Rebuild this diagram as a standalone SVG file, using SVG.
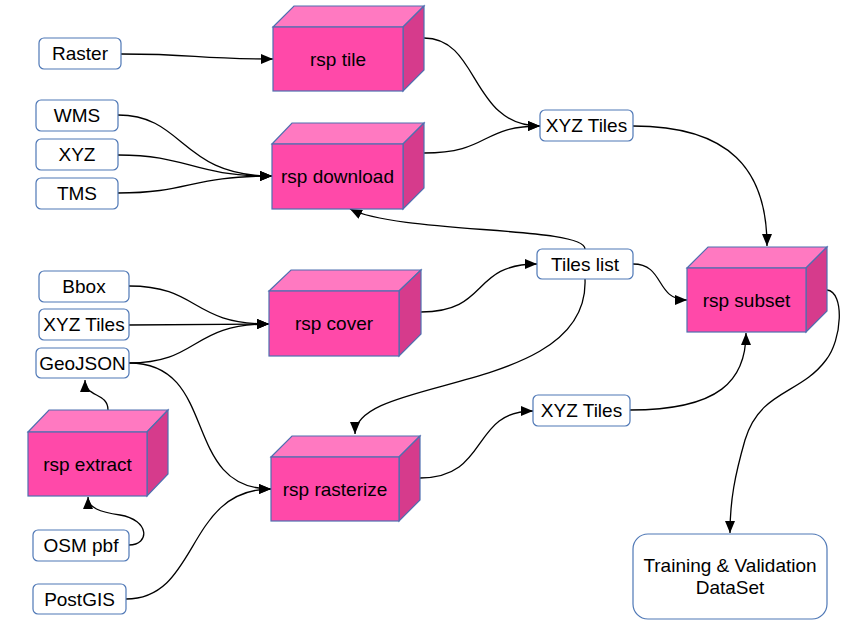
<svg xmlns="http://www.w3.org/2000/svg" width="848" height="635" viewBox="0 0 848 635">
<style>
text{font-family:"Liberation Sans",Arial,sans-serif;font-size:19px;fill:#000;text-anchor:middle}
.n{fill:#fff;stroke:#4f78b6;stroke-width:1.2}
.f{fill:#ff49a9;stroke:#4f6fb0;stroke-width:1.2}
.t{fill:#ff79c1;stroke:#4f6fb0;stroke-width:1.2}
.s{fill:#d63b8c;stroke:#4f6fb0;stroke-width:1.2}
.c{fill:none;stroke:#000;stroke-width:1.3;marker-end:url(#a)}
</style>
<defs>
<marker id="a" viewBox="0 0 12 10" refX="12" refY="5" markerWidth="12" markerHeight="10" markerUnits="userSpaceOnUse" orient="auto">
<path d="M0,0 L12,5 L0,10 z" fill="#000"/>
</marker>
</defs>
<rect width="848" height="635" fill="#fff"/>
<g id="connectors">
<path class="c" d="M121,54 C200,54 190,59 273,59"/>
<path class="c" d="M118,115 C185,115 180,176 272,176"/>
<path class="c" d="M118,155 C190,155 190,176 272,176"/>
<path class="c" d="M118,193 C190,193 190,176 272,176"/>
<path class="c" d="M424,38 C480,38 470,126 540,126"/>
<path class="c" d="M424,153 C490,153 480,126 540,126"/>
<path class="c" d="M633,126 C730,126 767,170 767,246"/>
<path class="c" d="M585,249 C585,226 400,234 350,209"/>
<path class="c" d="M421,312 C490,312 470,264 537,264"/>
<path class="c" d="M633,264 C665,264 655,300 687,300"/>
<path class="c" d="M585,279 C590,395 355,375 355,434"/>
<path class="c" d="M129,286 C200,286 190,324 269,324"/>
<path class="c" d="M129,325 L269,324"/>
<path class="c" d="M129,363 C200,363 190,324 269,324"/>
<path class="c" d="M129,363 C220,363 180,489 271,489"/>
<path class="c" d="M108,410 C108,392 85,398 85,380"/>
<path class="c" d="M129,545 C150,545 150,520 120,515 C100,512 88,508 88,497"/>
<path class="c" d="M126,599 C200,599 185,489 271,489"/>
<path class="c" d="M420,478 C490,478 470,411 533,411"/>
<path class="c" d="M630,410 C720,410 746,380 746,333"/>
<path class="c" d="M827,290 C845,292 842,340 826,360 C800,395 760,390 745,440 C735,475 730,500 730,533"/>
</g>
<g id="rsp-tile">
<polygon class="t" points="273,27 294,6 424,6 403,27"/>
<polygon class="s" points="403,27 424,6 424,70 403,91"/>
<rect class="f" x="273" y="27" width="130" height="64"/>
<text x="338" y="65.5">rsp tile</text>
</g>
<g id="rsp-download">
<polygon class="t" points="272,144 292,123 424,123 403,144"/>
<polygon class="s" points="403,144 424,123 424,188 403,209"/>
<rect class="f" x="272" y="144" width="131" height="65"/>
<text x="337.5" y="183">rsp download</text>
</g>
<g id="rsp-cover">
<polygon class="t" points="269,291 291,270 421,270 399,291"/>
<polygon class="s" points="399,291 421,270 421,334 399,356"/>
<rect class="f" x="269" y="291" width="130" height="65"/>
<text x="334" y="330">rsp cover</text>
</g>
<g id="rsp-rasterize">
<polygon class="t" points="271,457 292,436 420,436 399,457"/>
<polygon class="s" points="399,457 420,436 420,500 399,521"/>
<rect class="f" x="271" y="457" width="128" height="64"/>
<text x="335" y="495.5">rsp rasterize</text>
</g>
<g id="rsp-extract">
<polygon class="t" points="28,432 49,410 168,410 147,432"/>
<polygon class="s" points="147,432 168,410 168,474 147,496"/>
<rect class="f" x="28" y="432" width="119" height="64"/>
<text x="87.5" y="470.5">rsp extract</text>
</g>
<g id="rsp-subset">
<polygon class="t" points="687,268 708,247 827,247 806,268"/>
<polygon class="s" points="806,268 827,247 827,311 806,332"/>
<rect class="f" x="687" y="268" width="119" height="64"/>
<text x="746.5" y="306.5">rsp subset</text>
</g>
<g id="raster"><rect class="n" x="39" y="38" width="82" height="31" rx="5"/><text x="80" y="60">Raster</text></g>
<g id="wms"><rect class="n" x="36" y="100" width="82" height="31" rx="5"/><text x="77" y="122">WMS</text></g>
<g id="xyz"><rect class="n" x="36" y="139" width="82" height="31" rx="5"/><text x="77" y="161">XYZ</text></g>
<g id="tms"><rect class="n" x="36" y="178" width="82" height="31" rx="5"/><text x="77" y="200">TMS</text></g>
<g id="bbox"><rect class="n" x="39" y="271" width="90" height="31" rx="5"/><text x="84" y="293">Bbox</text></g>
<g id="xyz-tiles-in"><rect class="n" x="39" y="309" width="90" height="31" rx="5"/><text x="84" y="331">XYZ Tiles</text></g>
<g id="geojson"><rect class="n" x="36" y="348" width="93" height="30" rx="5"/><text x="82.5" y="369.5">GeoJSON</text></g>
<g id="osm-pbf"><rect class="n" x="33" y="530" width="96" height="31" rx="5"/><text x="81" y="552">OSM pbf</text></g>
<g id="postgis"><rect class="n" x="33" y="584" width="93" height="30" rx="5"/><text x="79.5" y="605.5">PostGIS</text></g>
<g id="xyz-tiles-top"><rect class="n" x="540" y="110" width="93" height="31" rx="5"/><text x="586.5" y="132">XYZ Tiles</text></g>
<g id="tiles-list"><rect class="n" x="537" y="249" width="96" height="30" rx="5"/><text x="585" y="270.5">Tiles list</text></g>
<g id="xyz-tiles-bottom"><rect class="n" x="533" y="395" width="97" height="31" rx="5"/><text x="581.5" y="417">XYZ Tiles</text></g>
<g id="dataset"><rect class="n" x="633" y="534" width="194" height="85" rx="15"/><text x="730" y="572">Training &amp; Validation</text><text x="730" y="594">DataSet</text></g>
</svg>
